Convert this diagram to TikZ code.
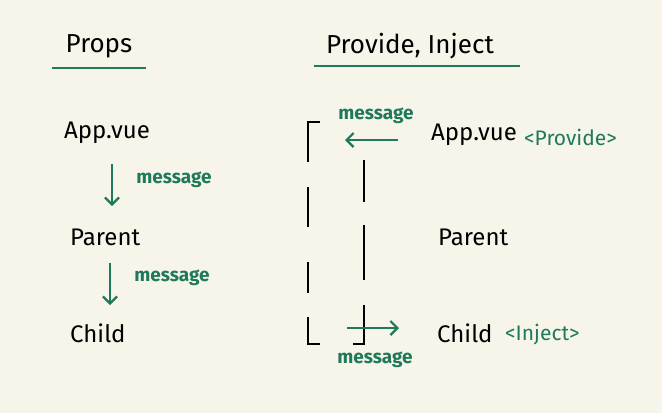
\documentclass[tikz,border=0pt]{standalone}
\usepackage{fontspec}
\setmainfont{Fira Sans}
\usetikzlibrary{arrows.meta}
\definecolor{bg}{HTML}{F7F5EA}
\definecolor{gr}{HTML}{1E7A5A}
\tikzset{
  comp/.style={font=\fontsize{24}{26}\selectfont, text=black, inner sep=0pt, anchor=west},
  msg/.style={font=\bfseries\fontsize{19}{20}\selectfont, text=gr, inner sep=0pt},
  tag/.style={font=\fontsize{21}{23}\selectfont, text=gr, inner sep=0pt, anchor=west},
  head/.style={font=\fontsize{26}{28}\selectfont, inner sep=0pt},
  uline/.style={draw=gr, line width=2.5pt},
  flow/.style={draw=gr, line width=2.2pt, -{Straight Barb[length=7pt,width=14pt,line width=2.2pt]}},
  bar/.style={draw=black, line width=2pt}
}
\begin{document}
\begin{tikzpicture}[x=1pt,y=-1pt]
\fill[bg] (0,0) rectangle (662,413);
\useasboundingbox (0,0) rectangle (662,413);
% headings
\node[head] (hprops) at (99,46) {Props};
\coordinate (u1a) at (52,68); \coordinate (u1b) at (146,68);
\draw[uline] (u1a) -- (u1b);
\node[head] (hpi) at (410,46) {Provide, Inject};
\coordinate (u2a) at (314,66); \coordinate (u2b) at (520,66);
\draw[uline] (u2a) -- (u2b);
% left column
\node[comp] (lapp) at (64,133) {App.vue};
\node[comp] (lpar) at (70,237) {Parent};
\node[comp] (lchi) at (70,333) {Child};
\coordinate (a1s) at (112,164); \coordinate (a1e) at (112,206);
\draw[flow] (a1s) -- (a1e);
\node[msg] (m1) at (174,180) {message};
\coordinate (a2s) at (110,263); \coordinate (a2e) at (110,305);
\draw[flow] (a2s) -- (a2e);
\node[msg] (m2) at (172,278) {message};
% right column
\node[comp] (rapp) at (431,135) {App.vue};
\node[tag] (prov) at (524,137) {<Provide>};
\node[comp] (rpar) at (438,237) {Parent};
\node[comp] (rchi) at (437,333) {Child};
\node[tag] (inj) at (505,335) {<Inject>};
% outer dashed bracket
\coordinate (o0) at (320,122); \coordinate (o1) at (308,122); \coordinate (o2) at (308,162);
\draw[bar] (o0) -- (o1) -- (o2);
\coordinate (o3) at (308,187); \coordinate (o4) at (308,227);
\draw[bar] (o3) -- (o4);
\coordinate (o5) at (308,262); \coordinate (o6) at (308,293);
\draw[bar] (o5) -- (o6);
\coordinate (o7) at (308,317); \coordinate (o8) at (308,344); \coordinate (o9) at (320,344);
\draw[bar] (o7) -- (o8) -- (o9);
% inner dashed line
\coordinate (i1) at (364,160); \coordinate (i2) at (364,202);
\draw[bar] (i1) -- (i2);
\coordinate (i3) at (364,225); \coordinate (i4) at (364,280);
\draw[bar] (i3) -- (i4);
\coordinate (i5) at (364,305); \coordinate (i6) at (364,344); \coordinate (i7) at (353,344);
\draw[bar] (i5) -- (i6) -- (i7);
% green arrows
\coordinate (t1) at (398,140); \coordinate (t2) at (345,140);
\draw[flow] (t1) -- (t2);
\node[msg] (m3) at (376,116) {message};
\coordinate (b1) at (347,328); \coordinate (b2) at (399,328);
\draw[flow] (b1) -- (b2);
\node[msg] (m4) at (375,360) {message};
\end{tikzpicture}
\end{document}
